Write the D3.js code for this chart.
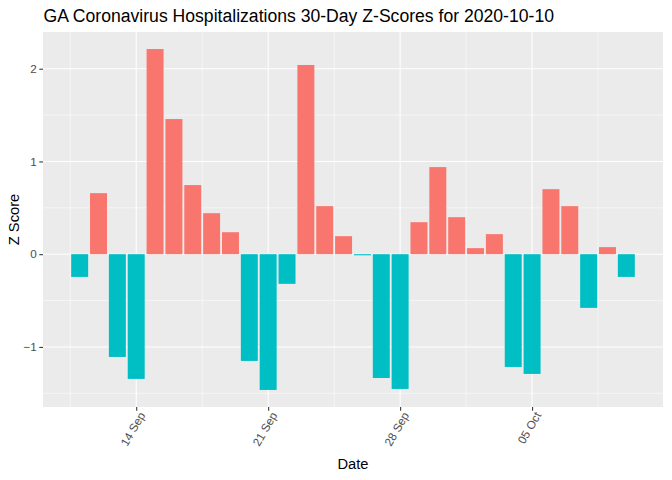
<!DOCTYPE html>
<html>
<head>
<meta charset="utf-8">
<script src="https://cdn.jsdelivr.net/npm/d3@7"></script>
<style>
  body { margin: 0; background: #fff; }
  text { font-family: "Liberation Sans", Arial, sans-serif; }
</style>
</head>
<body>
<svg id="chart" width="672" height="480"></svg>
<script>
// Daily z-scores, 11 Sep to 10 Oct 2020
const dates = [
  "2020-09-11", "2020-09-12", "2020-09-13", "2020-09-14", "2020-09-15",
  "2020-09-16", "2020-09-17", "2020-09-18", "2020-09-19", "2020-09-20",
  "2020-09-21", "2020-09-22", "2020-09-23", "2020-09-24", "2020-09-25",
  "2020-09-26", "2020-09-27", "2020-09-28", "2020-09-29", "2020-09-30",
  "2020-10-01", "2020-10-02", "2020-10-03", "2020-10-04", "2020-10-05",
  "2020-10-06", "2020-10-07", "2020-10-08", "2020-10-09", "2020-10-10"
];
const zScores = [
  -0.245, 0.658, -1.108, -1.345, 2.212,
  1.457, 0.745, 0.442, 0.237, -1.151,
  -1.464, -0.320, 2.040, 0.518, 0.194,
  -0.012, -1.335, -1.453, 0.345, 0.939,
  0.399, 0.065, 0.216, -1.216, -1.291,
  0.701, 0.518, -0.579, 0.076, -0.245
];
const yTicks = [-1, 0, 1, 2];
const xTickDates = ["2020-09-14", "2020-09-21", "2020-09-28", "2020-10-05"];

const parse = d3.utcParse("%Y-%m-%d");
const data = dates.map((d, i) => ({ date: parse(d), z: zScores[i] }));

const width = 672;
const height = 480;
const margin = { top: 32, right: 9, bottom: 73, left: 43 };
const day = 24 * 3600 * 1000;

const svg = d3.select("#chart");

// x: continuous date scale, ggplot-like 5% expansion
const xMin = +data[0].date - 0.45 * day;
const xMax = +data[data.length - 1].date + 0.45 * day;
const xPad = (xMax - xMin) * 0.05;
const xScale = d3.scaleUtc()
  .domain([new Date(xMin - xPad), new Date(xMax + xPad)])
  .range([margin.left, width - margin.right]);

const zMin = d3.min(zScores), zMax = d3.max(zScores);
const yPad = (zMax - zMin) * 0.05;
const yScale = d3.scaleLinear()
  .domain([zMin - yPad, zMax + yPad])
  .range([height - margin.bottom, margin.top]);

const x0 = margin.left, x1 = width - margin.right;
const y0 = margin.top, y1 = height - margin.bottom;

// Panel background
svg.append("rect")
  .attr("x", x0).attr("y", y0)
  .attr("width", x1 - x0).attr("height", y1 - y0)
  .attr("fill", "#EBEBEB");

// Minor gridlines
const xMajor = xTickDates.map(parse);
const xMinor = [];
for (let i = -1; i < xMajor.length; i++) {
  const t = i < 0 ? +xMajor[0] - 3.5 * day : +xMajor[i] + 3.5 * day;
  if (xScale(new Date(t)) > x0 && xScale(new Date(t)) < x1) xMinor.push(new Date(t));
}
const yMinor = [-1.5, -0.5, 0.5, 1.5];

svg.append("g").selectAll("line")
  .data(xMinor).enter().append("line")
  .attr("x1", (d) => xScale(d)).attr("x2", (d) => xScale(d))
  .attr("y1", y0).attr("y2", y1)
  .attr("stroke", "#fff").attr("stroke-width", 0.53);

svg.append("g").selectAll("line")
  .data(yMinor).enter().append("line")
  .attr("x1", x0).attr("x2", x1)
  .attr("y1", (d) => yScale(d)).attr("y2", (d) => yScale(d))
  .attr("stroke", "#fff").attr("stroke-width", 0.53);

// Major gridlines
svg.append("g").selectAll("line")
  .data(xMajor).enter().append("line")
  .attr("x1", (d) => xScale(d)).attr("x2", (d) => xScale(d))
  .attr("y1", y0).attr("y2", y1)
  .attr("stroke", "#fff").attr("stroke-width", 1.07);

svg.append("g").selectAll("line")
  .data(yTicks).enter().append("line")
  .attr("x1", x0).attr("x2", x1)
  .attr("y1", (d) => yScale(d)).attr("y2", (d) => yScale(d))
  .attr("stroke", "#fff").attr("stroke-width", 1.07);

// Bars
const barW = xScale(new Date(+data[0].date + 0.9 * day)) - xScale(data[0].date);
svg.append("g").selectAll("rect")
  .data(data).enter().append("rect")
  .attr("x", (d) => xScale(d.date) - barW / 2)
  .attr("width", barW)
  .attr("y", (d) => yScale(Math.max(0, d.z)))
  .attr("height", (d) => Math.abs(yScale(d.z) - yScale(0)))
  .attr("fill", (d) => (d.z > 0 ? "#F8766D" : "#00BFC4"));

// Axes
const xAxis = d3.axisBottom(xScale)
  .tickValues(xMajor)
  .tickFormat(d3.utcFormat("%d %b"))
  .tickSize(3.7)
  .tickPadding(2);
const gx = svg.append("g")
  .attr("transform", `translate(0, ${y1})`)
  .call(xAxis);
gx.select(".domain").remove();
gx.selectAll(".tick line").attr("stroke", "#333333").attr("stroke-width", 1.07);
gx.selectAll(".tick text")
  .attr("fill", "#4D4D4D")
  .style("font-size", "11.7px")
  .attr("text-anchor", "end")
  .attr("dy", null)
  .attr("transform", "translate(9, 8) rotate(-60)")
  .attr("x", 0).attr("y", 0);

const yAxis = d3.axisLeft(yScale)
  .tickValues(yTicks)
  .tickFormat(d3.format("d"))
  .tickSize(3.7)
  .tickPadding(2.5);
const gy = svg.append("g")
  .attr("transform", `translate(${x0}, 0)`)
  .call(yAxis);
gy.select(".domain").remove();
gy.selectAll(".tick line").attr("stroke", "#333333").attr("stroke-width", 1.07);
gy.selectAll(".tick text")
  .attr("fill", "#4D4D4D")
  .style("font-size", "11.7px");

// Axis titles
svg.append("text")
  .attr("text-anchor", "middle")
  .attr("x", (x0 + x1) / 2)
  .attr("y", 469)
  .style("font-size", "14.7px")
  .text("Date");

svg.append("text")
  .attr("text-anchor", "middle")
  .attr("transform", `translate(19, ${(y0 + y1) / 2}) rotate(-90)`)
  .style("font-size", "14.7px")
  .text("Z Score");

// Title
svg.append("text")
  .attr("x", 43.5)
  .attr("y", 22)
  .style("font-size", "17.6px")
  .text("GA Coronavirus Hospitalizations 30-Day Z-Scores for 2020-10-10");
</script>
</body>
</html>
